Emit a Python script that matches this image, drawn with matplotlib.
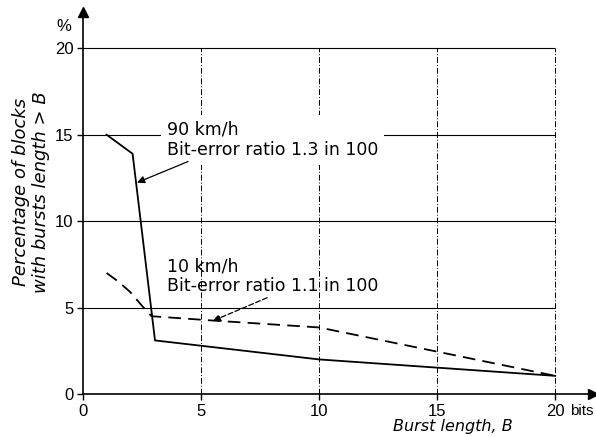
import numpy as np
import matplotlib
matplotlib.use('Agg')
import matplotlib.pyplot as plt

plt.rcParams['font.family'] = ['Liberation Sans', 'DejaVu Sans']

# Dados
b_90 = [1, 2.1, 3.05, 10, 20]
p_90 = [15.0, 13.9, 3.1, 2.0, 1.05]

b_10 = [1, 1.5, 2.0, 2.5, 2.9, 5.5, 10, 20]
p_10 = [7.0, 6.5, 5.9, 5.1, 4.5, 4.25, 3.85, 1.05]

x_ticks = [0, 5, 10, 15, 20]
y_ticks = [0, 5, 10, 15, 20]

fig = plt.figure(figsize=(5.96, 4.37), dpi=100)
ax = fig.add_axes([83/596, 43/437, 510/596, 382/437])
ax.set_xlim(0, 21.6)
ax.set_ylim(0, 22.1)

# grade
ax.hlines([5, 10, 15, 20], 0, 20, color='black', linewidth=0.8, zorder=1)
ax.vlines([5, 10, 15, 20], 0, 20, color='black', linewidth=0.7,
          linestyles=(0, (6, 2, 1, 2)), zorder=1)

# curvas
ax.plot(b_90, p_90, color='black', linewidth=1.3, zorder=3)
ax.plot(b_10, p_10, color='black', linewidth=1.3, linestyle=(0, (7, 4)), zorder=3)

# eixos com setas
for s in ['top', 'right']:
    ax.spines[s].set_visible(False)
ax.spines['left'].set_linewidth(1.2)
ax.spines['bottom'].set_linewidth(1.2)
ax.plot(1, 0, '>', color='black', markersize=7, transform=ax.transAxes, clip_on=False)
ax.plot(0, 1, '^', color='black', markersize=7, transform=ax.transAxes, clip_on=False)

ax.set_xticks(x_ticks)
ax.set_yticks(y_ticks)
ax.tick_params(direction='out', length=4, width=1, labelsize=12, pad=3)
ax.text(20.62, -0.6, 'bits', fontsize=11, ha='left', va='top')
ax.text(-0.5, 20.8, '%', fontsize=12, ha='right', va='bottom')

# anotações
txt = dict(fontsize=12.5, ha='left', va='bottom', linespacing=1.15,
           family='DejaVu Sans', zorder=4)
ax.text(3.55, 13.6, '90 km/h\nBit-error ratio 1.3 in 100',
        bbox=dict(boxstyle='square,pad=0.35', facecolor='white', edgecolor='none'),
        **txt)
ax.text(3.55, 5.7, '10 km/h\nBit-error ratio 1.1 in 100', **txt)

ax.annotate('', xy=(2.29, 12.23), xytext=(4.45, 13.45),
            arrowprops=dict(arrowstyle='-|>', color='black', linewidth=0.9,
                            shrinkA=0, shrinkB=0, mutation_scale=11), zorder=5)
ax.annotate('', xy=(5.5, 4.23), xytext=(7.8, 5.57),
            arrowprops=dict(arrowstyle='-|>', color='black', linewidth=0.9,
                            linestyle=(0, (4, 2)), shrinkA=0, shrinkB=0,
                            mutation_scale=11), zorder=5)

fig.text(31/596, 1 - 192/437, 'Percentage of blocks\nwith bursts length > B', rotation=90,
         style='italic', fontsize=13, family='DejaVu Sans',
         ha='center', va='center', linespacing=1.15)
fig.text(453/596, 3/437, 'Burst length, B', style='italic', fontsize=11.5,
         family='DejaVu Sans', ha='center', va='bottom')

fig.savefig('out.png', dpi=100)
